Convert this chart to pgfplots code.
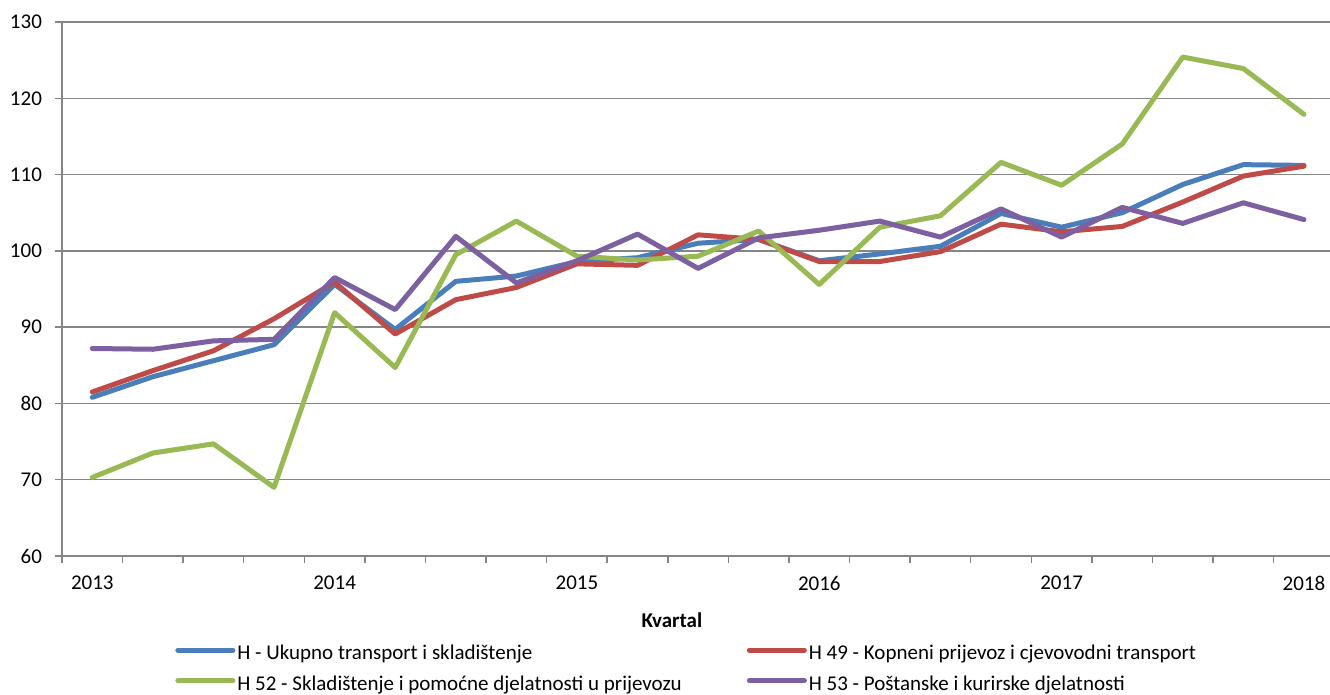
\documentclass[border=0pt]{standalone}
\usepackage{pgfplots}
\pgfplotsset{compat=1.18}
\usepackage{pgfplotstable}
\usepackage{fontspec}
\setmainfont{Carlito}
\definecolor{cblue}{HTML}{4A7EBB}
\definecolor{cred}{HTML}{BE4B48}
\definecolor{cgreen}{HTML}{98B954}
\definecolor{cpurple}{HTML}{7D60A0}
\definecolor{gridc}{HTML}{868686}
\pgfplotstableread{
i H H49 H52 H53
0 80.8 81.5 70.3 87.2
1 83.5 84.3 73.5 87.1
2 85.6 86.9 74.7 88.2
3 87.7 91.1 69.0 88.4
4 95.6 95.9 91.9 96.5
5 89.7 89.1 84.7 92.3
6 96.0 93.6 99.5 101.9
7 96.7 95.2 103.9 95.8
8 98.6 98.3 99.3 98.7
9 99.1 98.1 98.8 102.2
10 101.0 102.1 99.3 97.7
11 101.5 101.5 102.6 101.7
12 98.7 98.6 95.6 102.7
13 99.6 98.6 103.1 103.9
14 100.6 99.9 104.6 101.8
15 104.9 103.5 111.6 105.5
16 103.1 102.5 108.6 101.8
17 105.0 103.2 114.0 105.7
18 108.7 106.4 125.4 103.6
19 111.3 109.8 123.9 106.3
20 111.2 111.1 117.9 104.1
}\datatable
\begin{document}
\begin{tikzpicture}
\useasboundingbox (-31pt,-69.5pt) rectangle (634pt,278pt);
\begin{axis}[
  at={(0,0)}, anchor=south west,
  scale only axis, width=634pt, height=267pt,
  xmin=-0.5, xmax=20.43, ymin=60, ymax=130,
  ytick={60,70,...,130},
  xtick={-0.5,0.5,...,19.5}, xticklabels={},
  extra x ticks={0,4,8,12,16,20},
  extra x tick labels={2013,2014,2015,2016,2017,2018},
  extra x tick style={tick style={draw=none}},
  axis lines=left,
  axis line style={-, draw=gridc, line width=0.75pt},
  ymajorgrids,
  major grid style={draw=gridc, line width=0.75pt},
  tick style={draw=gridc, line width=0.75pt},
  tick align=outside,
  major tick length=3.5pt,
  /pgf/number format/assume math mode=true,
  tick label style={font=\fontsize{10.5}{12}\selectfont, text=black},
  yticklabel style={xshift=-3pt},
  xticklabel style={yshift=-3pt},
  xlabel={\textbf{Kvartal}},
  xlabel style={at={(axis description cs:0.481,0)}, anchor=center, yshift=-32pt, font=\fontsize{10.5}{12}\selectfont},
  legend columns=2,
  legend style={at={(axis description cs:0.0891,-0.166)}, anchor=north west, draw=none, fill=none,
    inner sep=0pt, row sep=5.5pt, font=\fontsize{10.5}{12}\selectfont,
    nodes={inner xsep=1pt, inner ysep=0pt, text height=7.3pt, text depth=2.5pt, anchor=west},
    /tikz/every even column/.append style={column sep=31.5pt}},
  legend cell align=left,
  legend image code/.code={\draw[#1, line width=2.5pt, line cap=round] (0pt,2.4pt) -- (27.5pt,2.4pt);},
  every axis plot/.append style={line width=2.5pt, line join=round, line cap=round},
]
\addplot[cblue] table[x=i, y=H] {\datatable};
\addlegendentry{H - Ukupno transport i skladištenje}
\addplot[cred] table[x=i, y=H49] {\datatable};
\addlegendentry{H 49 - Kopneni prijevoz i cjevovodni transport}
\addplot[cgreen] table[x=i, y=H52] {\datatable};
\addlegendentry{H 52 - Skladištenje i pomoćne djelatnosti u prijevozu}
\addplot[cpurple] table[x=i, y=H53] {\datatable};
\addlegendentry{H 53 - Poštanske i kurirske djelatnosti}
\end{axis}
\end{tikzpicture}
\end{document}
